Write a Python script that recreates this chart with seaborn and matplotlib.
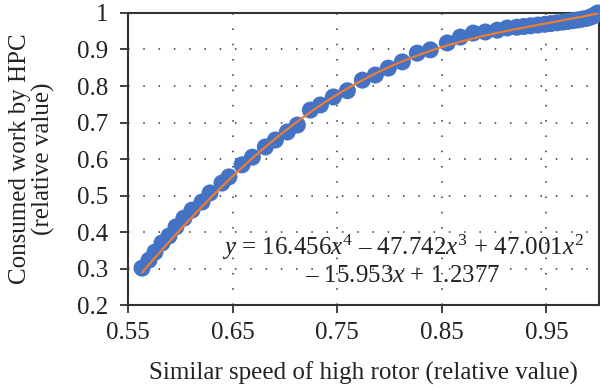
import numpy as np
import pandas as pd
import matplotlib
matplotlib.use("Agg")
import matplotlib.pyplot as plt
import seaborn as sns

# Data
speed = [0.5634, 0.5701, 0.5758, 0.5825, 0.5892, 0.5959, 0.6035, 0.6112, 0.6207,
         0.6284, 0.6398, 0.6465, 0.6590, 0.6689, 0.6813, 0.6909, 0.7023, 0.7119,
         0.7243, 0.7339, 0.7463, 0.7597, 0.7740, 0.7864, 0.7988, 0.8122, 0.8265,
         0.8390, 0.8552, 0.8676, 0.8800, 0.8915, 0.9030, 0.9125, 0.9216, 0.9283,
         0.9350, 0.9417, 0.9484, 0.9541, 0.9599, 0.9656, 0.9704, 0.9752, 0.9799,
         0.9838, 0.9876, 0.9904, 0.9933, 0.9952, 0.9971, 0.9990]
work = [0.301, 0.323, 0.345, 0.370, 0.389, 0.414, 0.438, 0.460, 0.482,
        0.507, 0.534, 0.551, 0.584, 0.605, 0.633, 0.652, 0.674, 0.693,
        0.734, 0.748, 0.770, 0.787, 0.816, 0.830, 0.849, 0.866, 0.890,
        0.899, 0.918, 0.934, 0.945, 0.948, 0.953, 0.959, 0.961, 0.963,
        0.965, 0.967, 0.969, 0.971, 0.973, 0.975, 0.977, 0.979, 0.981,
        0.983, 0.985, 0.987, 0.990, 0.993, 0.996, 1.000]
# Fitted polynomial stated on the chart (highest power first)
fit_coefs = [16.456, -47.742, 47.001, -15.953, 1.2377]

x_ticks = [0.55, 0.65, 0.75, 0.85, 0.95]
x_tick_labels = ["0.55", "0.65", "0.75", "0.85", "0.95"]
y_ticks = [0.2, 0.3, 0.4, 0.5, 0.6, 0.7, 0.8, 0.9, 1.0]
y_tick_labels = ["0.2", "0.3", "0.4", "0.5", "0.6", "0.7", "0.8", "0.9", "1"]

sns.set_style("white")
plt.rcParams["font.family"] = ["Liberation Serif", "DejaVu Serif"]
plt.rcParams["mathtext.fontset"] = "custom"
plt.rcParams["mathtext.rm"] = "Liberation Serif"
plt.rcParams["mathtext.it"] = "Liberation Serif:italic"

df = pd.DataFrame({"speed": speed, "work": work})
xf = np.linspace(min(speed), max(speed), 300)
fit_df = pd.DataFrame({"speed": xf, "work": np.polyval(fit_coefs, xf)})

fig = plt.figure(figsize=(6.0, 3.88), dpi=100)
ax = fig.add_axes([0.2133, 0.2139, 0.998 - 0.2133, 0.9665 - 0.2139])

sns.scatterplot(data=df, x="speed", y="work", ax=ax, s=150, color="#4472C4",
                edgecolor="none", zorder=3, clip_on=False)
sns.lineplot(data=fit_df, x="speed", y="work", ax=ax, color="#ED7D31",
             linewidth=1.6, zorder=4)

ax.set_xlim(0.55, 1.0)
ax.set_ylim(0.2, 1.0)
ax.set_xticks(x_ticks)
ax.set_xticklabels(x_tick_labels)
ax.set_yticks(y_ticks)
ax.set_yticklabels(y_tick_labels)
ax.grid(True, linestyle=(0, (1, 9)), color="#333333", linewidth=1.1)
ax.tick_params(axis="both", which="major", direction="out", length=6, width=1.3,
               colors="#333333", labelcolor="#222222", labelsize=18,
               bottom=True, left=True)
ax.tick_params(axis="x", pad=6)
ax.tick_params(axis="y", pad=8)
for sp in ax.spines.values():
    sp.set_color("#333333")
    sp.set_linewidth(1.5)

ax.set_xlabel("Similar speed of high rotor (relative value)", fontsize=18,
              color="#222222", labelpad=13)
ax.set_ylabel("Consumed work by HPC\n(relative value)", fontsize=18,
              color="#222222", labelpad=16, linespacing=1.05)

ax.text(0.813, 0.323,
        "$y$ = 16.456$x^4$ \u2013 47.742$x^3$ + 47.001$x^2$\n\u2013 15.953$x$ + 1.2377",
        ha="center", va="center", multialignment="center", fontsize=18,
        color="#222222", linespacing=1.15, transform=ax.transData, zorder=5)

fig.savefig("out.png", dpi=100)
